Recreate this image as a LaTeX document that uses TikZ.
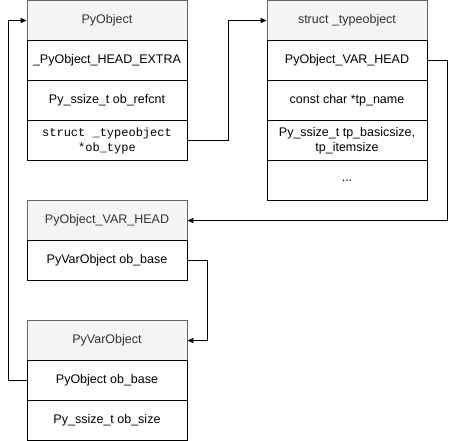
\documentclass[tikz,border=0pt]{standalone}
\usepackage{fontspec}
\setmainfont{Liberation Sans}
\newfontfamily\monof{Liberation Mono}
\usetikzlibrary{arrows.meta}
\definecolor{hdfill}{HTML}{F5F5F5}
\definecolor{hdline}{HTML}{666666}
\definecolor{hdtext}{HTML}{333333}
\begin{document}
\begin{tikzpicture}[x=1pt,y=-1pt,
  cell/.style={draw=black,line width=0.8pt,fill=white,minimum width=160pt,minimum height=40pt,inner sep=0pt,align=center,font=\fontsize{12.5}{15}\selectfont},
  head/.style={cell,draw=hdline,fill=hdfill,text=hdtext},
  conn/.style={draw=black,line width=0.8pt,-{Triangle[length=6pt,width=5pt]}}
]
\useasboundingbox (0,0) rectangle (456,441);
% PyObject
\node[head] (a0) at (107,20.5) {PyObject};
\node[cell] (a1) at (107,60.5) {\_PyObject\_HEAD\_EXTRA};
\node[cell] (a2) at (107,100.5) {Py\_ssize\_t ob\_refcnt};
\node[cell] (a3) at (107,140.5) {\fontsize{12}{15}\monof struct \_typeobject\\\fontsize{12}{15}\monof *ob\_type};
% struct _typeobject
\node[head] (b0) at (347,20.5) {struct \_typeobject};
\node[cell] (b1) at (347,60.5) {PyObject\_VAR\_HEAD};
\node[cell] (b2) at (347,100.5) {const char *tp\_name};
\node[cell] (b3) at (347,140.5) {Py\_ssize\_t tp\_basicsize,\\tp\_itemsize};
\node[cell] (b4) at (347,180.5) {...};
% PyObject_VAR_HEAD
\node[head] (c0) at (107,220.5) {PyObject\_VAR\_HEAD};
\node[cell] (c1) at (107,260.5) {PyVarObject ob\_base};
% PyVarObject
\node[head] (d0) at (107,340.5) {PyVarObject};
\node[cell] (d1) at (107,380.5) {PyObject ob\_base};
\node[cell] (d2) at (107,420.5) {Py\_ssize\_t ob\_size};
% connectors
\draw[conn] (a3.east) -| (228,20.5) -- (b0.west);
\draw[conn] (b1.east) -| (447.5,220.5) -- (c0.east);
\draw[conn] (c1.east) -| (207.5,340.5) -- (d0.east);
\draw[conn] (d1.west) -| (8,20.5) -- (a0.west);
\end{tikzpicture}
\end{document}
